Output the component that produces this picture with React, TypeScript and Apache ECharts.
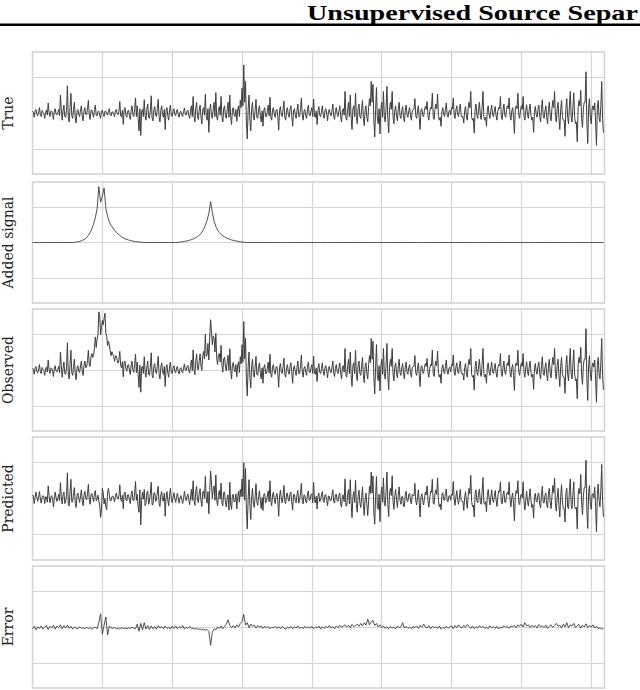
import React, { useEffect, useRef } from "react";
import * as echarts from "echarts";

// ---- data (sample index -> value, y in grid units) ----
const SAMPLE_STEP = 2.5; // time units between main samples; a mid sample sits halfway
const panelNames = ["True", "Added signal", "Observed", "Predicted", "Error"];
const titleText = "Unsupervised Source Separ";

const trueValues = [
  0.05, -0.12, 0.1, -0.08, 0.15, -0.1, 0.02, -0.15, 0.08, 0.28, -0.1, 0.05, -0.18, 0.12, -0.05, 0.1, 0.5, -0.2, 0.22, -0.12,
  0.76, -0.25, 0.55, -0.15, 0.3, -0.28, 0.1, -0.1, 0.2, -0.22, 0.15, -0.05, 0.35, -0.18, 0.08, -0.12, 0.22, -0.08, 0.05, -0.15,
  0.08, -0.1, 0.05, -0.06, 0.12, -0.08, 0.03, -0.1, 0.1, -0.05, 0.32, -0.1, -0.32, 0.15, -0.12, 0.08, -0.18, 0.2, -0.1, 0.42,
  0.2, -0.5, -0.63, 0.1, 0.37, -0.2, 0.25, -0.15, 0.48, -0.22, 0.18, -0.1, 0.38, -0.25, 0.2, -0.12, -0.46, 0.15, -0.2, 0.22,
  -0.1, 0.12, -0.08, 0.1, -0.12, 0.05, -0.1, 0.14, -0.06, 0.08, -0.15, 0.2, 0.46, -0.25, 0.3, -0.18, 0.22, -0.3, 0.15, 0.52,
  -0.2, -0.54, 0.25, -0.15, 0.3, 0.57, -0.2, 0.18, 0.46, -0.25, 0.2, -0.15, 0.3, 0.5, -0.32, 0.15, -0.1, -0.23, 0.2, 0.35,
  0.69, 1.34, 0.88, -0.72, 0.5, -0.5, 0.3, -0.2, 0.38, -0.15, 0.2, -0.25, -0.37, 0.15, -0.1, 0.22, 0.44, -0.2, 0.15, -0.12,
  0.1, -0.48, 0.18, -0.1, 0.33, -0.2, 0.15, -0.12, 0.2, -0.37, 0.12, -0.15, 0.25, -0.1, 0.42, -0.2, 0.1, -0.15, 0.22, -0.08,
  0.15, 0.39, -0.12, -0.32, 0.18, -0.1, 0.2, -0.15, 0.12, -0.22, 0.1, -0.08, 0.25, -0.18, 0.15, -0.1, 0.2, -0.25, 0.12, 0.6,
  -0.2, 0.3, 0.5, -0.46, 0.2, 0.55, -0.3, 0.25, -0.15, 0.35, -0.35, 0.2, -0.25, 0.4, 0.88, 0.8, -0.67, 0.71, -0.3, -0.58,
  0.3, 0.6, -0.25, 0.74, -0.55, 0.3, 0.6, -0.3, 0.2, -0.22, 0.3, -0.15, 0.18, -0.25, 0.22, -0.12, 0.15, -0.2, 0.1, 0.4,
  -0.15, 0.2, -0.46, 0.12, -0.1, 0.18, 0.32, -0.2, 0.15, 0.55, -0.18, 0.25, 0.53, -0.2, -0.37, 0.15, -0.1, 0.28, -0.12, 0.08,
  0.15, 0.42, -0.15, 0.2, -0.1, 0.25, -0.12, -0.28, 0.18, -0.2, 0.3, 0.6, -0.2, -0.56, 0.25, -0.15, 0.3, -0.18, 0.6, -0.2,
  -0.37, 0.2, -0.15, 0.22, -0.1, 0.18, -0.2, 0.15, 0.46, -0.18, 0.25, -0.12, 0.2, 0.42, -0.2, 0.15, -0.57, 0.2, 0.55, -0.15,
  0.2, 0.46, -0.2, 0.23, -0.15, 0.25, -0.2, -0.54, 0.18, -0.12, 0.22, -0.25, 0.37, -0.15, 0.2, -0.3, 0.3, -0.22, 0.35, 0.6,
  -0.25, 0.3, -0.46, 0.35, -0.2, -0.65, 0.4, -0.3, 0.6, -0.25, 0.56, -0.3, -0.8, 0.35, 0.63, -0.4, 0.3, 1.15, -0.85, 0.4,
  -0.3, 0.2, 0.28, -0.9, 0.35, -0.25, 0.88, -0.55,
];

// in-between samples of the true signal (the dense low-amplitude core)
const trueMidValues = [
  0.02, 0.06, -0.04, 0.03, -0.05, 0.07, -0.02, 0.04, -0.06, 0.01, 0.05, -0.03, 0.06, -0.04, 0.02, -0.08, 0.12, 0.05, -0.1, 0.08,
  -0.12, 0.15, -0.08, 0.1, -0.14, 0.06, -0.05, 0.09, -0.1, 0.07, -0.04, 0.12, -0.06, 0.08, -0.03, 0.1, -0.07, 0.04, -0.06, 0.05,
  -0.04, 0.05, -0.03, 0.06, -0.05, 0.03, -0.04, 0.06, -0.02, 0.04, -0.08, 0.07, 0.1, -0.06, 0.05, -0.07, 0.08, -0.05, 0.12, -0.1,
  -0.15, 0.12, 0.05, -0.1, -0.08, 0.1, -0.12, 0.08, -0.14, 0.1, -0.06, 0.12, -0.1, 0.08, -0.05, 0.1, 0.06, -0.08, 0.1, -0.07,
  0.05, -0.04, 0.06, -0.05, 0.03, -0.06, 0.04, -0.03, 0.05, -0.07, 0.06, -0.1, -0.08, 0.12, -0.1, 0.08, -0.12, 0.1, -0.06, -0.1,
  0.12, 0.1, -0.08, 0.1, -0.1, -0.12, 0.08, -0.06, -0.1, 0.12, -0.08, 0.1, -0.12, -0.1, 0.08, -0.06, 0.1, 0.08, -0.1, 0.15,
  0.2, 0.3, -0.25, 0.1, -0.2, 0.12, -0.1, 0.08, -0.12, 0.1, -0.08, 0.06, 0.08, -0.1, 0.05, -0.08, -0.12, 0.1, -0.06, 0.08,
  -0.1, 0.08, -0.06, 0.1, -0.12, 0.07, -0.05, 0.1, -0.08, 0.06, -0.05, 0.08, -0.1, 0.12, -0.06, 0.05, -0.08, 0.1, -0.05, 0.06,
  -0.1, -0.08, 0.06, 0.05, -0.06, 0.04, -0.05, 0.06, -0.04, 0.05, -0.03, 0.06, -0.08, 0.05, -0.04, 0.07, -0.1, 0.08, -0.06, -0.15,
  0.12, -0.1, -0.15, 0.12, -0.1, -0.12, 0.14, -0.1, 0.12, -0.15, 0.1, -0.12, 0.15, 0.2, 0.3, -0.2, 0.1, -0.15, 0.12, 0.1,
  -0.12, -0.1, 0.15, -0.15, 0.12, 0.1, -0.12, 0.08, -0.1, 0.12, -0.08, 0.06, -0.1, 0.08, -0.05, 0.07, -0.08, 0.06, 0.1, -0.08,
  0.06, -0.15, 0.1, -0.06, 0.08, 0.1, -0.08, 0.05, 0.12, -0.1, 0.1, 0.12, -0.1, -0.12, 0.06, -0.05, 0.1, -0.06, 0.04, -0.05,
  0.12, -0.06, 0.08, -0.05, 0.1, -0.06, -0.1, 0.07, -0.08, 0.12, 0.15, -0.12, -0.15, 0.1, -0.06, 0.12, -0.08, 0.15, -0.1, -0.12,
  0.08, -0.06, 0.07, -0.05, 0.06, -0.08, 0.05, 0.12, -0.1, 0.08, -0.06, 0.1, 0.12, -0.08, 0.06, -0.15, 0.1, 0.12, -0.06, 0.08,
  0.1, -0.08, 0.06, -0.05, 0.1, -0.08, -0.12, 0.06, -0.05, 0.1, -0.1, 0.12, -0.08, 0.06, -0.12, 0.1, -0.08, 0.12, 0.15, -0.1,
  0.12, -0.15, 0.1, -0.1, -0.2, 0.15, -0.12, 0.2, -0.1, 0.15, -0.12, -0.25, 0.15, 0.2, -0.15, 0.12, 0.3, -0.25, 0.15, -0.12,
  0.1, 0.08, -0.25, 0.12, -0.1, 0.2, -0.15, 0.05,
];

// added signal: sparse [sampleIndex, value]; zero elsewhere
const addedPeaks: [number, number][] = [
  [24, 0.005], [25, 0.01], [26, 0.02], [27, 0.03], [28, 0.05], [29, 0.07], [30, 0.1], [31, 0.14], [32, 0.2], [33, 0.28],
  [34, 0.38], [35, 0.52], [36, 0.7], [37, 0.95], [38, 1.57], [39, 1.13], [40, 1.3], [41, 1.53], [42, 0.97], [43, 0.74],
  [44, 0.58], [45, 0.48], [46, 0.41], [47, 0.34], [48, 0.29], [49, 0.24], [50, 0.2], [51, 0.16], [52, 0.13], [53, 0.1],
  [54, 0.085], [55, 0.07], [56, 0.055], [57, 0.045], [58, 0.035], [59, 0.025], [60, 0.02], [61, 0.015], [62, 0.01], [63, 0.005],
  [84, 0.01], [85, 0.015], [86, 0.02], [87, 0.03], [88, 0.04], [89, 0.05], [90, 0.065], [91, 0.08], [92, 0.1], [93, 0.12],
  [94, 0.15], [95, 0.18], [96, 0.23], [97, 0.29], [98, 0.37], [99, 0.48], [100, 0.62], [101, 0.82], [102, 1.15], [103, 0.85],
  [104, 0.6], [105, 0.45], [106, 0.35], [107, 0.28], [108, 0.23], [109, 0.19], [110, 0.16], [111, 0.13], [112, 0.11], [113, 0.09],
  [114, 0.07], [115, 0.06], [116, 0.05], [117, 0.04], [118, 0.03], [119, 0.02], [120, 0.015], [121, 0.01], [122, 0.005],
];

// error = true - predicted
const errorValues = [
  -0.05, 0.02, -0.08, 0.0, -0.04, 0.03, -0.06, -0.01, 0.04, -0.07, 0.02, -0.03, 0.05, -0.06, 0.03, -0.02, 0.06, -0.05, 0.04, -0.03,
  0.05, -0.04, 0.02, -0.06, 0.0, -0.03, -0.05, 0.01, -0.04, -0.02, -0.05, -0.01, -0.04, -0.02, -0.06, -0.03, 0.0, -0.05, 0.12, 0.37,
  -0.2, 0.05, 0.28, -0.22, 0.02, -0.02, -0.04, -0.01, -0.05, -0.03, -0.06, -0.02, -0.04, -0.03, -0.05, -0.02, -0.04, -0.01, -0.03, -0.05,
  0.08, -0.12, 0.1, -0.08, 0.12, -0.06, 0.04, -0.07, 0.03, -0.05, 0.02, -0.06, 0.04, -0.03, 0.01, -0.05, 0.03, -0.04, 0.0, -0.06,
  0.02, -0.04, 0.03, -0.05, 0.01, -0.03, 0.04, -0.06, 0.0, -0.04, 0.02, -0.05, -0.03, -0.06, -0.04, -0.07, -0.05, -0.08, -0.06, -0.09,
  -0.07, -0.12, -0.51, -0.15, -0.05, -0.08, 0.0, -0.04, 0.03, -0.05, 0.02, 0.08, 0.2, 0.05, -0.02, 0.04, -0.03, 0.06, 0.0, 0.1,
  0.15, 0.35, 0.05, 0.12, -0.02, 0.08, 0.02, 0.05, -0.03, 0.04, -0.01, 0.03, -0.04, 0.02, -0.02, 0.01, -0.05, 0.0, -0.03, 0.02,
  -0.04, 0.01, -0.05, 0.02, -0.03, -0.06, 0.0, -0.04, 0.02, -0.05, 0.01, -0.03, 0.03, -0.04, 0.0, -0.05, 0.02, -0.03, 0.01, -0.04,
  0.02, -0.05, 0.0, -0.03, 0.03, -0.06, 0.01, -0.04, 0.02, -0.02, 0.04, -0.03, 0.01, -0.05, 0.03, -0.02, 0.05, -0.01, 0.03, 0.06,
  0.0, 0.05, -0.02, 0.07, 0.01, 0.04, 0.08, 0.02, 0.1, 0.03, 0.12, 0.05, 0.22, 0.06, 0.15, 0.18, 0.04, 0.1, 0.0, 0.06,
  -0.02, 0.03, -0.04, 0.01, -0.05, 0.02, -0.03, 0.0, -0.05, 0.03, -0.02, 0.01, 0.12, -0.03, 0.02, -0.04, 0.0, -0.05, 0.02, -0.02,
  0.03, -0.04, 0.05, -0.01, 0.08, 0.0, -0.03, 0.04, -0.05, 0.02, -0.02, 0.01, -0.04, 0.03, -0.06, -0.01, -0.04, 0.02, -0.03, 0.0,
  0.03, -0.05, 0.04, -0.02, 0.06, 0.0, -0.03, 0.05, -0.01, 0.07, 0.02, -0.04, 0.03, -0.05, 0.01, -0.03, 0.04, -0.02, 0.02, -0.04,
  0.0, -0.05, 0.03, -0.02, 0.01, -0.04, 0.02, -0.06, 0.0, -0.03, 0.04, -0.01, 0.02, -0.04, 0.03, 0.0, 0.05, -0.02, 0.06, 0.02,
  0.08, 0.0, 0.12, 0.03, 0.06, -0.02, 0.05, 0.0, 0.04, -0.03, 0.07, 0.01, 0.03, -0.02, 0.05, -0.04, 0.02, 0.06, -0.01, 0.04,
  0.1, 0.02, 0.05, -0.03, 0.08, 0.0, 0.12, -0.02, 0.06, 0.03, 0.1, -0.01, 0.04, 0.07, -0.03, 0.05, 0.0, 0.09, -0.02, 0.04,
  0.0, 0.06, -0.03, 0.02, -0.05, -0.02, -0.06, -0.04,
];

const yGridValues = [-1, 0, 1];

export default function App() {
  const ref = useRef<HTMLDivElement>(null);
  useEffect(() => {
    if (!ref.current) return;
    const chart = echarts.init(ref.current, null, { renderer: "svg" });
    const peakMap = new Map(addedPeaks);
    const added = trueValues.map((_, i) => peakMap.get(i) ?? 0);

    // interleave main and mid samples: [x, y]
    const fine = (main: (i: number) => number, mid: (i: number) => number) => {
      const out: number[][] = [];
      trueValues.forEach((_, i) => {
        out.push([i * SAMPLE_STEP, main(i)]);
        if (i < trueValues.length - 1) out.push([(i + 0.5) * SAMPLE_STEP, mid(i)]);
      });
      return out;
    };
    const trueSeries = fine((i) => trueValues[i], (i) => trueMidValues[i] ?? 0);
    const observedSeries = fine(
      (i) => trueValues[i] + added[i],
      (i) => (trueMidValues[i] ?? 0) + added[i]
    );
    const predictedSeries = fine(
      (i) => trueValues[i] - (errorValues[i] ?? 0),
      (i) => (trueMidValues[i] ?? 0) - (errorValues[i] ?? 0)
    );
    const addedSeries = added.map((v, i) => [i * SAMPLE_STEP, v]);
    const errorSeries = errorValues.map((v, i) => [i * SAMPLE_STEP, v]);
    const seriesData = [trueSeries, addedSeries, observedSeries, predictedSeries, errorSeries];
    const widths = [1, 0.9, 1, 1, 0.9];

    const tops = [52, 182, 309, 437, 566];
    const heights = [122, 121, 122, 123, 122];
    const grid = tops.map((t, k) => ({
      left: 32.5, width: 572, top: t, height: heights[k],
      containLabel: false, outerBoundsMode: "none",
      show: true, borderColor: "#cfcfcf", borderWidth: 1.3, backgroundColor: "transparent",
    }));
    const xAxis = tops.map((_, k) => ({
      type: "value", gridIndex: k, min: 0, max: 819, interval: 100,
      axisLine: { show: false }, axisTick: { show: false }, axisLabel: { show: false },
      splitLine: { show: true, lineStyle: { color: "#d4d4d4", width: 1.2 } },
    }));
    const yAxis = tops.map((_, k) => ({
      type: "value", gridIndex: k, min: -1.7, max: 1.7,
      axisLine: { show: false }, axisTick: { show: false }, axisLabel: { show: false },
      splitLine: { show: false },
      name: panelNames[k], nameLocation: "middle", nameGap: 18,
      nameTextStyle: { fontFamily: "DejaVu Serif", fontSize: 14, color: "#222" },
    }));
    const series: any[] = [];
    tops.forEach((_, k) => {
      series.push({
        type: "line", xAxisIndex: k, yAxisIndex: k, data: [], silent: true, z: 1,
        markLine: {
          silent: true, symbol: "none", label: { show: false },
          lineStyle: { color: "#d4d4d4", width: 1.2, type: "solid" },
          data: yGridValues.map((v) => ({ yAxis: v })),
        },
      });
      series.push({
        type: "line", xAxisIndex: k, yAxisIndex: k, z: 10,
        data: seriesData[k], showSymbol: false, symbol: "none",
        lineStyle: { color: "#3d3d3d", width: widths[k] }, silent: true,
      });
    });

    chart.setOption({
      animation: false,
      grid, xAxis, yAxis, series,
      graphic: [
        {
          type: "text", x: 307, y: 1, scaleX: 1.28,
          style: { text: titleText, font: 'bold 22px "Liberation Serif"', fill: "#000" },
        },
        {
          type: "line", shape: { x1: 0, y1: 24.7, x2: 640, y2: 24.7 },
          style: { stroke: "#000", lineWidth: 2.5 },
        },
      ],
    });
    return () => chart.dispose();
  }, []);
  return (
    <div
      ref={ref}
      style={{ position: "fixed", left: 0, top: 0, width: 640, height: 690, background: "#fff" }}
    />
  );
}
